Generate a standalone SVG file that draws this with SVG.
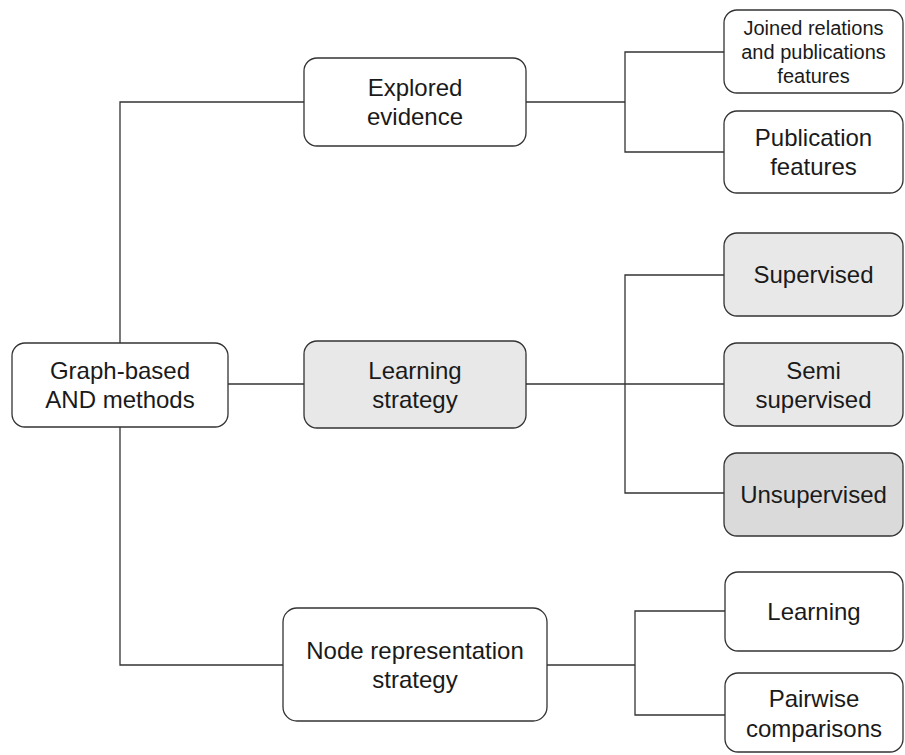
<svg xmlns="http://www.w3.org/2000/svg" width="905" height="755" viewBox="0 0 905 755">
<style>
.n{fill:#ffffff;stroke:#333333;stroke-width:1.3}
.g{fill:#e8e8e8;stroke:#333333;stroke-width:1.3}
.d{fill:#dadada;stroke:#333333;stroke-width:1.3}
.t{font-family:"Liberation Sans",Arial,sans-serif;font-size:24px;fill:#1a1a1a;text-anchor:middle}
.s{font-size:20px}
.c{fill:none;stroke:#333333;stroke-width:1.3}
</style>
<rect width="905" height="755" fill="#ffffff"/>
<g id="connectors">
<path class="c" d="M120,343 V102 H304"/>
<path class="c" d="M120,427 V665 H283"/>
<path class="c" d="M228,384 H304"/>
<path class="c" d="M526,102 H625"/>
<path class="c" d="M724,52 H625 V152 H724"/>
<path class="c" d="M526,384 H724"/>
<path class="c" d="M724,275 H625 V493 H724"/>
<path class="c" d="M547,665 H635"/>
<path class="c" d="M725,611 H635 V715 H725"/>
</g>
<g id="root">
<rect class="n" x="12" y="343" width="216" height="84" rx="13"/>
<text class="t" x="120" y="379">Graph-based</text>
<text class="t" x="120" y="408">AND methods</text>
</g>
<g id="explored">
<rect class="n" x="304" y="58" width="222" height="88" rx="13"/>
<text class="t" x="415" y="96">Explored</text>
<text class="t" x="415" y="125">evidence</text>
</g>
<g id="learning-strategy">
<rect class="g" x="304" y="341" width="222" height="87" rx="13"/>
<text class="t" x="415" y="379">Learning</text>
<text class="t" x="415" y="408">strategy</text>
</g>
<g id="node-rep">
<rect class="n" x="283" y="608" width="264" height="113" rx="14"/>
<text class="t" x="415" y="659">Node representation</text>
<text class="t" x="415" y="688">strategy</text>
</g>
<g id="joined">
<rect class="n" x="724" y="10" width="179" height="83" rx="13"/>
<text class="t s" x="813.5" y="35">Joined relations</text>
<text class="t s" x="813.5" y="59">and publications</text>
<text class="t s" x="813.5" y="83">features</text>
</g>
<g id="publication">
<rect class="n" x="724" y="111" width="179" height="82" rx="13"/>
<text class="t" x="813.5" y="146">Publication</text>
<text class="t" x="813.5" y="175">features</text>
</g>
<g id="supervised">
<rect class="g" x="724" y="233" width="179" height="83" rx="13"/>
<text class="t" x="813.5" y="283">Supervised</text>
</g>
<g id="semi">
<rect class="g" x="724" y="343" width="179" height="83" rx="13"/>
<text class="t" x="813.5" y="379">Semi</text>
<text class="t" x="813.5" y="408">supervised</text>
</g>
<g id="unsupervised">
<rect class="d" x="724" y="453" width="179" height="83" rx="13"/>
<text class="t" x="813.5" y="503">Unsupervised</text>
</g>
<g id="learning">
<rect class="n" x="725" y="572" width="178" height="79" rx="13"/>
<text class="t" x="814" y="620">Learning</text>
</g>
<g id="pairwise">
<rect class="n" x="725" y="673" width="178" height="79" rx="13"/>
<text class="t" x="814" y="707">Pairwise</text>
<text class="t" x="814" y="737">comparisons</text>
</g>
</svg>
